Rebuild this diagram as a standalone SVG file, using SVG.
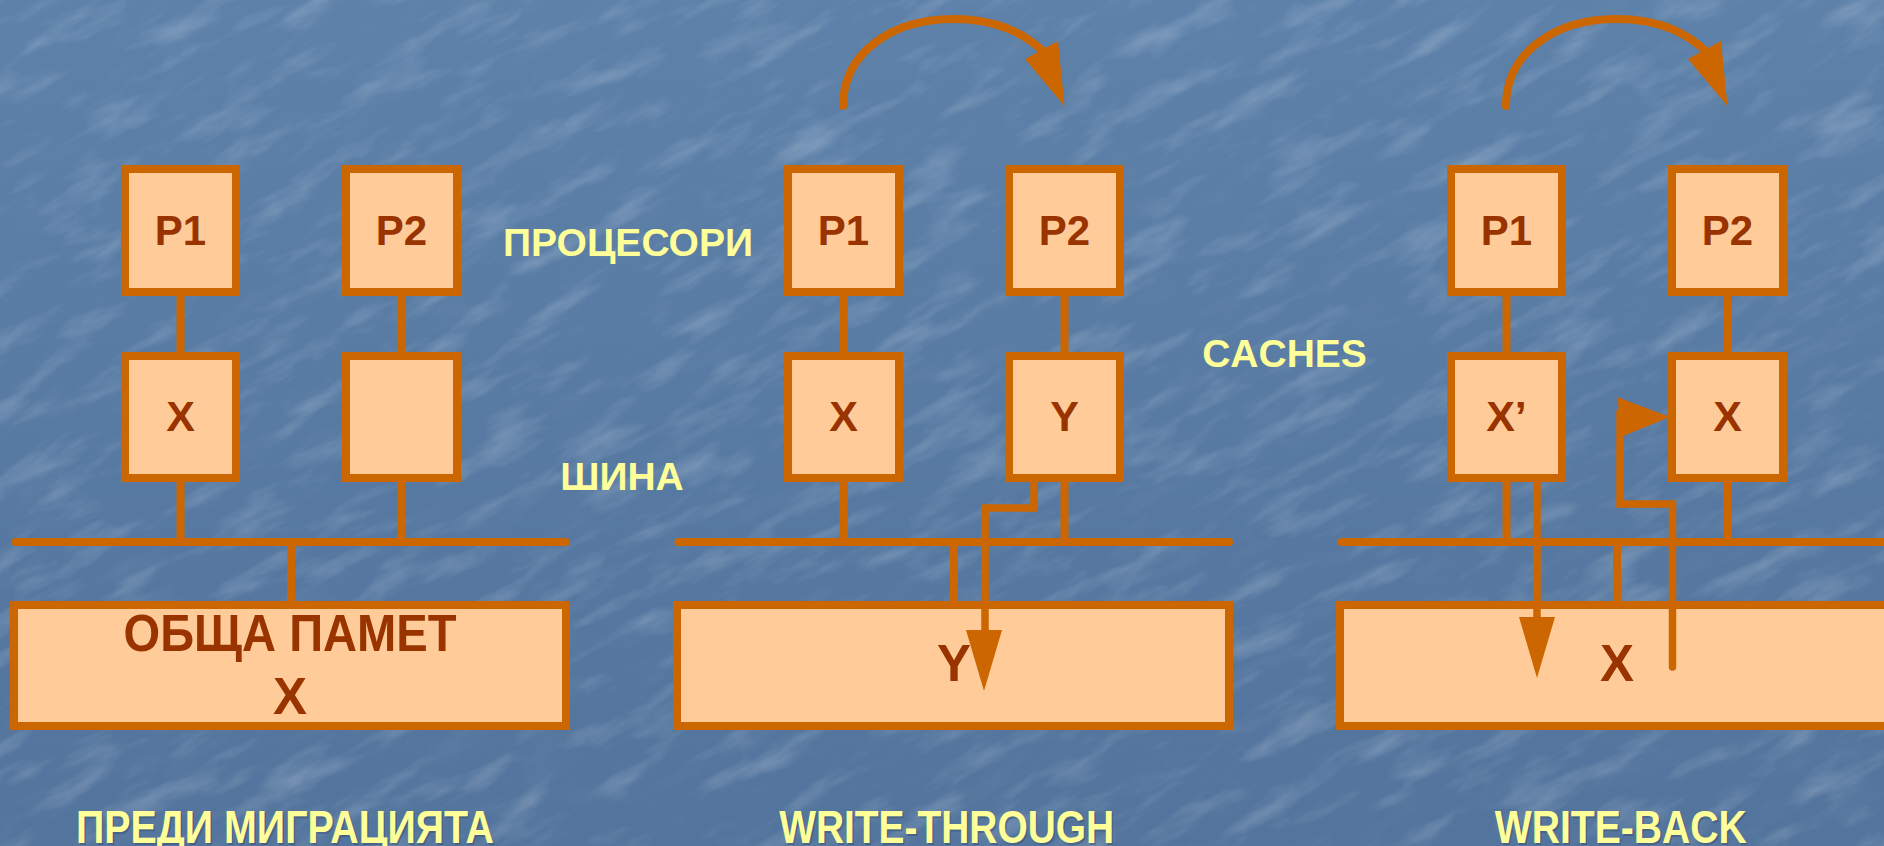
<svg xmlns="http://www.w3.org/2000/svg" width="1884" height="846" viewBox="0 0 1884 846">
  <defs>
    <linearGradient id="bgGrad" x1="0" y1="0" x2="0" y2="1">
      <stop offset="0" stop-color="#5D81A9"/>
      <stop offset="1" stop-color="#53749C"/>
    </linearGradient>
    <!-- mottled paper texture laid over the blue backdrop -->
    <filter id="streakLight" x="0" y="0" width="1" height="1">
      <feTurbulence type="fractalNoise" baseFrequency="0.012 0.04" numOctaves="4" seed="11"/>
      <feColorMatrix type="matrix" values="0 0 0 0 0.82  0 0 0 0 0.88  0 0 0 0 0.96  2.4 0 0 0 -1.2"/>
    </filter>
    <filter id="streakDark" x="0" y="0" width="1" height="1">
      <feTurbulence type="fractalNoise" baseFrequency="0.015 0.045" numOctaves="4" seed="4"/>
      <feColorMatrix type="matrix" values="0 0 0 0 0.2  0 0 0 0 0.3  0 0 0 0 0.45  0 -2.2 0 0 1.02"/>
    </filter>
    <style>
      .box { fill: #FFCC99; stroke: #CC6600; stroke-width: 8; stroke-linejoin: miter; }
      .wire { fill: none; stroke: #CC6600; stroke-width: 8; }
      .bus { fill: none; stroke: #CC6600; stroke-width: 8; stroke-linecap: round; }
      .flow { fill: none; stroke: #CC6600; stroke-width: 7.5; stroke-linejoin: miter; }
      .head { fill: #CC6600; stroke: none; }
      .lbl { font-family: "Liberation Sans", Arial, sans-serif; font-weight: bold; fill: #993300; text-anchor: middle; }
      .note { font-family: "Liberation Sans", Arial, sans-serif; font-weight: bold; fill: #FFFF99; text-anchor: middle; font-size: 39px; }
      .title { font-family: "Liberation Sans", Arial, sans-serif; font-weight: bold; fill: #FFFF99; text-anchor: middle; font-size: 46px; }
      .titleShadow { font-family: "Liberation Sans", Arial, sans-serif; font-weight: bold; fill: #2F4868; opacity: 0.4; text-anchor: middle; font-size: 46px; }
    </style>
  </defs>

  <!-- backdrop -->
  <rect x="0" y="0" width="1884" height="846" fill="url(#bgGrad)"/>
  <g transform="rotate(-28 942 423)" opacity="0.22">
    <rect x="-500" y="-700" width="2900" height="2250" filter="url(#streakLight)"/>
  </g>
  <g transform="rotate(-28 942 423)" opacity="0.2">
    <rect x="-500" y="-700" width="2900" height="2250" filter="url(#streakDark)"/>
  </g>

  <!-- side captions -->
  <g id="caption-processors"><text class="note" x="628" y="256">ПРОЦЕСОРИ</text></g>
  <g id="caption-bus"><text class="note" x="622" y="489.5">ШИНА</text></g>
  <g id="caption-caches"><text class="note" x="1284.5" y="367">CACHES</text></g>

  <!-- ===== panel 1: before migration ===== -->
  <g id="p1-cpu1"><rect class="box" x="125" y="169" width="111" height="123"/><text class="lbl" x="180.5" y="245" font-size="42">P1</text></g>
  <g id="p1-cpu2"><rect class="box" x="346" y="169" width="111" height="123"/><text class="lbl" x="401.5" y="245" font-size="42">P2</text></g>
  <g id="p1-cache1"><rect class="box" x="125" y="356" width="111" height="122"/><text class="lbl" x="180.5" y="431" font-size="43">X</text></g>
  <g id="p1-cache2"><rect class="box" x="346" y="356" width="111" height="122"/></g>
  <g id="p1-memory"><rect class="box" x="14" y="605" width="552" height="121"/>
    <text class="lbl" x="290" y="651" font-size="51" textLength="333" lengthAdjust="spacingAndGlyphs">ОБЩА ПАМЕТ</text>
    <text class="lbl" x="290" y="714" font-size="51">X</text></g>

  <!-- ===== panel 2: write-through ===== -->
  <g id="p2-cpu1"><rect class="box" x="788" y="169" width="111" height="123"/><text class="lbl" x="843.5" y="245" font-size="42">P1</text></g>
  <g id="p2-cpu2"><rect class="box" x="1009" y="169" width="111" height="123"/><text class="lbl" x="1064.5" y="245" font-size="42">P2</text></g>
  <g id="p2-cache1"><rect class="box" x="788" y="356" width="111" height="122"/><text class="lbl" x="843.5" y="431" font-size="43">X</text></g>
  <g id="p2-cache2"><rect class="box" x="1009" y="356" width="111" height="122"/><text class="lbl" x="1064.5" y="431" font-size="43">Y</text></g>
  <g id="p2-memory"><rect class="box" x="677" y="605" width="552" height="121"/>
    <text class="lbl" x="954" y="681" font-size="51">Y</text></g>

  <!-- ===== panel 3: write-back ===== -->
  <g id="p3-cpu1"><rect class="box" x="1451" y="169" width="111" height="123"/><text class="lbl" x="1506.5" y="245" font-size="42">P1</text></g>
  <g id="p3-cpu2"><rect class="box" x="1672" y="169" width="111" height="123"/><text class="lbl" x="1727.5" y="245" font-size="42">P2</text></g>
  <g id="p3-cache1"><rect class="box" x="1451" y="356" width="111" height="122"/><text class="lbl" x="1506.5" y="431" font-size="43">X’</text></g>
  <g id="p3-cache2"><rect class="box" x="1672" y="356" width="111" height="122"/><text class="lbl" x="1727.5" y="431" font-size="43">X</text></g>
  <g id="p3-memory"><rect class="box" x="1340" y="605" width="552" height="121"/>
    <text class="lbl" x="1617" y="681" font-size="51">X</text></g>

  <!-- connectors: cpu-cache links, buses, memory taps, data flows -->
  <g id="connectors">
    <!-- panel 1 -->
    <path class="wire" d="M180.5 296V352M401.5 296V352M180.5 482V542M401.5 482V542M291 542V601"/>
    <path class="bus" d="M15.5 542H566"/>
    <!-- panel 2 -->
    <path class="wire" d="M843.5 296V352M1064.5 296V352M843.5 482V542M1064.5 482V542M954 542V601"/>
    <path class="bus" d="M678.5 542H1229"/>
    <path class="flow" d="M1034 480V508H985V634"/>
    <polygon class="head" points="966,630 1002,630 984,691"/>
    <path class="bus" d="M843 106C843 52 893 19 953 19C997 19 1024 33 1045 53"/>
    <polygon class="head" points="1025,59 1058,41 1064.5,106"/>
    <!-- panel 3 -->
    <path class="wire" d="M1506.5 296V352M1727.5 296V352M1506.5 482V542M1727.5 482V542M1617 542V601"/>
    <path class="bus" d="M1341.5 542H1892"/>
    <path class="flow" d="M1537 480V620"/>
    <polygon class="head" points="1519,617 1555,617 1537,678"/>
    <path class="flow" d="M1672.5 667V504H1620V412" stroke-linecap="round"/>
    <polygon class="head" points="1617,397 1670,417 1623,436"/>
    <path class="bus" d="M1506 106C1506 52 1556 19 1616 19C1660 19 1687 33 1708 53"/>
    <polygon class="head" points="1688,59 1721,41 1727.5,106"/>
  </g>

  <!-- panel titles -->
  <g id="title-before">
    <text class="titleShadow" x="286.5" y="844.5" textLength="418" lengthAdjust="spacingAndGlyphs">ПРЕДИ МИГРАЦИЯТА</text>
    <text class="title" x="285" y="843" textLength="418" lengthAdjust="spacingAndGlyphs">ПРЕДИ МИГРАЦИЯТА</text>
  </g>
  <g id="title-write-through">
    <text class="titleShadow" x="948.2" y="844.5" textLength="335" lengthAdjust="spacingAndGlyphs">WRITE-THROUGH</text>
    <text class="title" x="946.7" y="843" textLength="335" lengthAdjust="spacingAndGlyphs">WRITE-THROUGH</text>
  </g>
  <g id="title-write-back">
    <text class="titleShadow" x="1622.3" y="844.5" textLength="252" lengthAdjust="spacingAndGlyphs">WRITE-BACK</text>
    <text class="title" x="1620.8" y="843" textLength="252" lengthAdjust="spacingAndGlyphs">WRITE-BACK</text>
  </g>
</svg>
